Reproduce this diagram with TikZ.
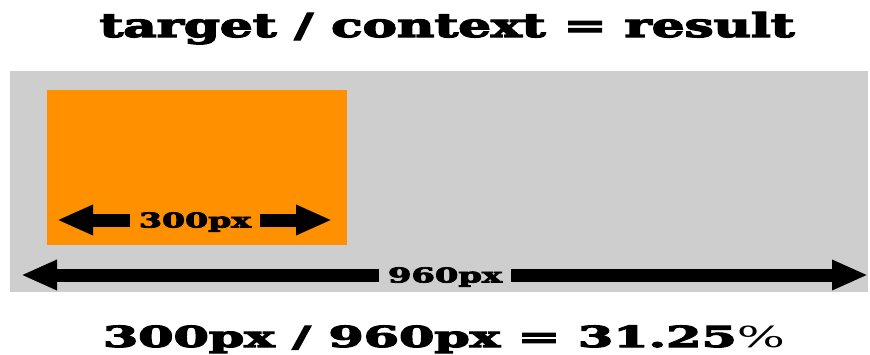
\documentclass[tikz,border=0pt]{standalone}
\usepackage{fontspec}
\usepackage{graphicx}
\usetikzlibrary{arrows.meta}
\newfontfamily\heavy{DejaVu Serif}[BoldFeatures={FakeBold=3.5}]
\newfontfamily\plainserif{DejaVu Serif}
\definecolor{panelgray}{HTML}{CECECE}
\definecolor{boxorange}{HTML}{FF9000}
% widen a line of text to a given width, keeping its height
\newcommand{\widento}[2]{\resizebox{#1}{\height}{#2}}
\begin{document}
\begin{tikzpicture}[x=1pt,y=-1pt,
  headline/.style={font=\heavy\bfseries\fontsize{33}{33}\selectfont, inner sep=0pt},
  formula/.style={font=\heavy\bfseries\fontsize{29}{29}\selectfont, inner sep=0pt},
  dimlabel/.style={font=\heavy\bfseries\fontsize{20.5}{20.5}\selectfont, text height=15pt, text depth=0pt, inner xsep=8.5pt, inner ysep=0pt},
  dimarrow/.style={line width=13pt, -{Triangle[length=36pt,width=28pt]}, black}
]
\useasboundingbox (0,0) rectangle (870,354);

% title
\node[headline, anchor=base] (title) at (447,37) {\widento{695pt}{target / context = result}};

% panels
\fill[panelgray] (10,71) rectangle (868,292);
\fill[boxorange] (47,90) rectangle (347,245);

% inner dimension
\node[dimlabel] (l300) at (195,220) {\widento{112pt}{300px}};
\coordinate (t300L) at (57,220);
\coordinate (t300R) at (332,220);
\draw[dimarrow] (l300.west) -- (t300L);
\draw[dimarrow] (l300.east) -- (t300R);

% outer dimension
\node[dimlabel] (l960) at (445,275) {\widento{114pt}{960px}};
\coordinate (t960L) at (21,275);
\coordinate (t960R) at (868,275);
\draw[dimarrow] (l960.west) -- (t960L);
\draw[dimarrow] (l960.east) -- (t960R);

% result
\node[formula, anchor=base] (result) at (444,347) {\widento{682pt}{300px / 960px = 31.25{\plainserif\mdseries\%}}};
\end{tikzpicture}
\end{document}
